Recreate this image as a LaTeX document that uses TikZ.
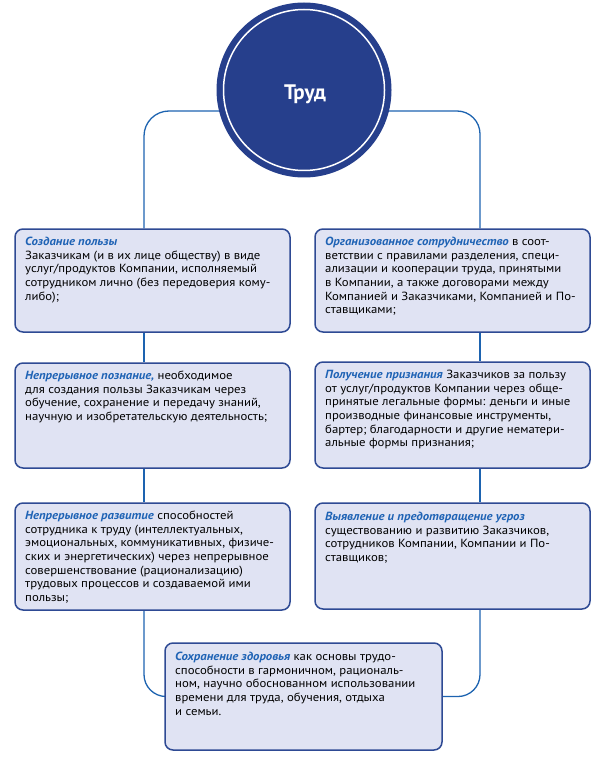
\documentclass[tikz,border=0pt]{standalone}
\usepackage{fontspec}
\setmainfont[FakeStretch=1.08]{PT Sans}
\setsansfont[FakeStretch=1.08]{PT Sans}
\newfontfamily\titlefont{PT Sans}
\usetikzlibrary{backgrounds}
\definecolor{navy}{HTML}{263F8C}
\definecolor{boxborder}{HTML}{2E4A94}
\definecolor{boxfill}{HTML}{E0E3F3}
\definecolor{linkblue}{HTML}{1D63B0}
\definecolor{titleblue}{HTML}{1F63B5}
\tikzset{
  conn/.style={draw=linkblue, line width=1.3pt},
  panel/.style={draw=boxborder, fill=boxfill, line width=1.5pt, rounded corners=8pt,
    rectangle, inner sep=0pt},
  bodytext/.style={anchor=north west, inner sep=0pt, align=left, text=black,
    font=\fontsize{11.8}{13.6}\selectfont},
}
\newcommand{\ttl}[1]{\textcolor{titleblue}{\textbf{\textit{#1}}}}
\begin{document}
\begin{tikzpicture}[x=1pt,y=-1pt]
\path[use as bounding box] (0,0) rectangle (601,767);
% guide coordinates
\coordinate (xl) at (144,111);
\coordinate (xr) at (480,111);
% panels
\node[panel, minimum width=275pt, minimum height=103pt] (L1) at (152.5,280.5) {};
\node[panel, minimum width=275pt, minimum height=103pt] (R1) at (452.5,280.5) {};
\node[panel, minimum width=275pt, minimum height=105pt] (L2) at (152.5,415.5) {};
\node[panel, minimum width=275pt, minimum height=106pt] (R2) at (452.5,415) {};
\node[panel, minimum width=275pt, minimum height=107pt] (L3) at (152.5,556.5) {};
\node[panel, minimum width=275pt, minimum height=106pt] (R3) at (452.5,556) {};
\node[panel, minimum width=277pt, minimum height=107pt] (B) at (303.5,696.5) {};
% circle
\node[circle, fill=navy, minimum size=175pt, inner sep=0pt] (circ) at (304,90) {};
\node[circle, draw=white, line width=1.5pt, minimum size=161pt, inner sep=0pt] (ring) at (304,90) {};
\node[text=white, inner sep=0pt, font=\titlefont\fontsize{21}{24}\selectfont\bfseries] (trud) at (305,94) {Труд};
% connectors (behind)
\begin{scope}[on background layer]
\draw[conn, rounded corners=25pt] (circ.center |- xl) -| (L1.north -| xl);
\draw[conn, rounded corners=23pt] (circ.center |- xr) -| (R1.north -| xr);
\draw[conn] (L1.south -| xl) -- (L2.north -| xl);
\draw[conn] (L2.south -| xl) -- (L3.north -| xl);
\draw[conn] (R1.south -| xr) -- (R2.north -| xr);
\draw[conn] (R2.south -| xr) -- (R3.north -| xr);
\draw[conn, rounded corners=22pt] (L3.south -| xl) |- (B.west);
\draw[conn, rounded corners=22pt] (R3.south -| xr) |- (B.east);
\end{scope}
% texts
\node[bodytext] (tL1) at (25,237) {\ttl{Создание пользы}\\
Заказчикам (и в их лице обществу) в виде\\
услуг/продуктов Компании, исполняемый\\
сотрудником лично (без передоверия кому-\\
либо);};
\node[bodytext] (tR1) at (325,237) {\ttl{Организованное сотрудничество} в соот-\\
ветствии с правилами разделения, специ-\\
ализации и кооперации труда, принятыми\\
в Компании, а также договорами между\\
Компанией и Заказчиками, Компанией и По-\\
ставщиками;};
\node[bodytext] (tL2) at (25,371) {\ttl{Непрерывное познание,} необходимое\\
для создания пользы Заказчикам через\\
обучение, сохранение и передачу знаний,\\
научную и изобретательскую деятельность;};
\node[bodytext] (tR2) at (325,370) {\ttl{Получение признания} Заказчиков за пользу\\
от услуг/продуктов Компании через обще-\\
принятые легальные формы: деньги и иные\\
производные финансовые инструменты,\\
бартер; благодарности и другие нематери-\\
альные формы признания;};
\node[bodytext] (tL3) at (25,511) {\ttl{Непрерывное развитие} способностей\\
сотрудника к труду (интеллектуальных,\\
эмоциональных, коммуникативных, физиче-\\
ских и энергетических) через непрерывное\\
совершенствование (рационализацию)\\
трудовых процессов и создаваемой ими\\
пользы;};
\node[bodytext] (tR3) at (325,512) {\ttl{Выявление и предотвращение угроз}\\
существованию и развитию Заказчиков,\\
сотрудников Компании, Компании и По-\\
ставщиков;};
\node[bodytext] (tB) at (175,652) {\ttl{Сохранение здоровья} как основы трудо-\\
способности в гармоничном, рациональ-\\
ном, научно обоснованном использовании\\
времени для труда, обучения, отдыха\\
и семьи.};
\end{tikzpicture}
\end{document}
